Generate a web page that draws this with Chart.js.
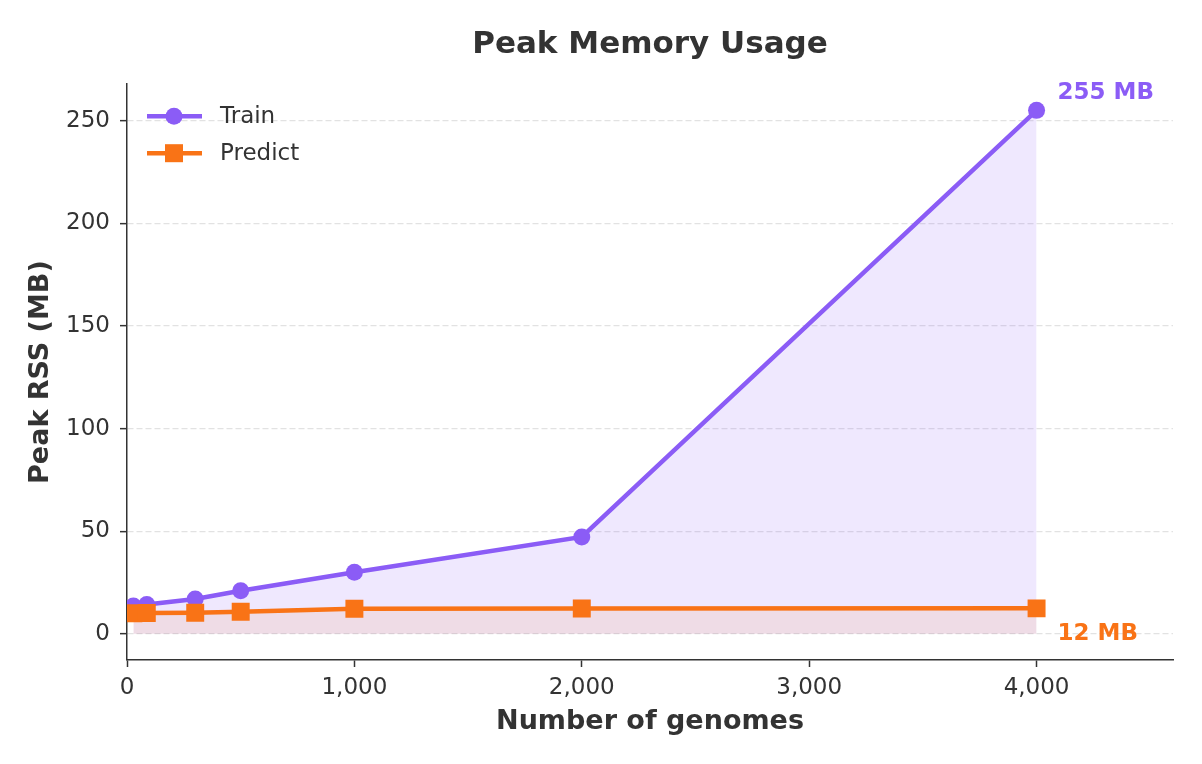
<!DOCTYPE html>
<html>
<head>
<meta charset="utf-8">
<title>Peak Memory Usage</title>
<script src="https://cdn.jsdelivr.net/npm/chart.js@4/dist/chart.umd.min.js"></script>
<style>
  html, body { margin: 0; padding: 0; background: #fff; }
  #wrap { width: 1202px; height: 764px; }
</style>
</head>
<body>
<div id="wrap"><canvas id="memChart" width="1202" height="764"></canvas></div>
<script>
// --- Data ---
const genomes = [28, 87, 300, 500, 1000, 2000, 4000];
const trainMB = [13.5, 14.3, 17.0, 21.0, 30.0, 47.2, 255];
const predictMB = [10.0, 10.1, 10.3, 10.8, 12.2, 12.3, 12.4];
const xTicks = [0, 1000, 2000, 3000, 4000];
const yTicks = [0, 50, 100, 150, 200, 250];
const seriesNames = ['Train', 'Predict'];
const endLabels = ['255 MB', '12 MB'];

// --- Style ---
const PURPLE = '#8b5cf6';
const ORANGE = '#f97316';
const INK = '#333333';
const FONT = "'DejaVu Sans', sans-serif";

const toPoints = (vals) => genomes.map((g, i) => ({ x: g, y: vals[i] }));

// legend (line + marker) and end-of-line labels drawn on top
const overlay = {
    id: 'overlay',
    afterDraw(chart) {
        const ctx = chart.ctx;
        const area = chart.chartArea;
        const xs = chart.scales.x;
        const ys = chart.scales.y;

        // legend
        const rows = [
            { name: seriesNames[0], color: PURPLE, marker: 'circle', y: area.top + 32 },
            { name: seriesNames[1], color: ORANGE, marker: 'rect', y: area.top + 69 }
        ];
        ctx.save();
        rows.forEach(r => {
            const x0 = area.left + 20, x1 = area.left + 75, mx = area.left + 47;
            ctx.strokeStyle = r.color;
            ctx.lineWidth = 4.5;
            ctx.beginPath();
            ctx.moveTo(x0, r.y);
            ctx.lineTo(x1, r.y);
            ctx.stroke();
            ctx.fillStyle = r.color;
            if (r.marker === 'circle') {
                ctx.beginPath();
                ctx.arc(mx, r.y, 8.5, 0, Math.PI * 2);
                ctx.fill();
            } else {
                ctx.fillRect(mx - 9, r.y - 9, 18, 18);
            }
            ctx.fillStyle = INK;
            ctx.font = `23px ${FONT}`;
            ctx.textAlign = 'left';
            ctx.textBaseline = 'middle';
            ctx.fillText(r.name, area.left + 93, r.y + 1);
        });

        // end labels
        const last = genomes.length - 1;
        const px = xs.getPixelForValue(genomes[last]);
        ctx.font = `bold 23px ${FONT}`;
        ctx.textAlign = 'left';
        ctx.textBaseline = 'alphabetic';
        ctx.fillStyle = PURPLE;
        ctx.fillText(endLabels[0], px + 21, ys.getPixelForValue(trainMB[last]) - 11);
        ctx.fillStyle = ORANGE;
        ctx.fillText(endLabels[1], px + 21, ys.getPixelForValue(predictMB[last]) + 32);
        ctx.restore();
    }
};

const ctx = document.getElementById('memChart').getContext('2d');
new Chart(ctx, {
    type: 'line',
    data: {
        datasets: [
            {
                label: seriesNames[0],
                data: toPoints(trainMB),
                borderColor: PURPLE,
                backgroundColor: 'rgba(139, 92, 246, 0.14)',
                fill: 'origin',
                borderWidth: 4.5,
                tension: 0,
                pointStyle: 'circle',
                pointRadius: 8.5,
                pointBackgroundColor: PURPLE,
                pointBorderColor: PURPLE,
                pointBorderWidth: 0,
                order: 1
            },
            {
                label: seriesNames[1],
                data: toPoints(predictMB),
                borderColor: ORANGE,
                backgroundColor: 'rgba(249, 115, 22, 0.10)',
                fill: 'origin',
                borderWidth: 4.5,
                tension: 0,
                pointStyle: 'rect',
                pointRadius: 12.7,
                pointBackgroundColor: ORANGE,
                pointBorderColor: ORANGE,
                pointBorderWidth: 0,
                order: 0
            }
        ]
    },
    options: {
        responsive: false,
        animation: false,
        devicePixelRatio: 1,
        layout: { padding: { left: 0, right: 29, top: 0, bottom: 0 } },
        plugins: {
            legend: { display: false },
            tooltip: { enabled: false },
            title: {
                display: true,
                text: 'Peak Memory Usage',
                color: INK,
                fullSize: false,
                font: { family: FONT, size: 31, weight: 'bold' },
                padding: { top: 26, bottom: 21 }
            }
        },
        scales: {
            x: {
                type: 'linear',
                min: 0,
                max: 4600,
                afterFit: (s) => { s.height = 104; },
                afterBuildTicks: (s) => { s.ticks = xTicks.map(v => ({ value: v })); },
                ticks: {
                    color: INK,
                    padding: 7,
                    font: { family: FONT, size: 23 },
                    callback: (v) => v.toLocaleString('en-US')
                },
                grid: {
                    display: true,
                    drawOnChartArea: false,
                    drawTicks: true,
                    tickLength: 7,
                    tickColor: INK,
                    tickWidth: 1.5
                },
                border: { display: true, color: INK, width: 1.5 },
                title: {
                    display: true,
                    text: 'Number of genomes',
                    color: INK,
                    font: { family: FONT, size: 27, weight: 'bold' },
                    padding: { top: 0, bottom: 26 }
                }
            },
            y: {
                type: 'linear',
                min: -12.75,
                max: 267.75,
                afterFit: (s) => { s.width = 127; },
                afterBuildTicks: (s) => { s.ticks = yTicks.map(v => ({ value: v })); },
                ticks: {
                    color: INK,
                    padding: 10,
                    font: { family: FONT, size: 23 }
                },
                grid: {
                    display: true,
                    drawOnChartArea: true,
                    drawTicks: true,
                    color: '#e2e2e2',
                    lineWidth: 1.3,
                    tickLength: 7,
                    tickColor: INK,
                    tickWidth: 1.5
                },
                border: { display: true, color: INK, width: 1.5, dash: [6, 3] },
                title: {
                    display: true,
                    text: 'Peak RSS (MB)',
                    color: INK,
                    font: { family: FONT, size: 27, weight: 'bold' },
                    padding: { top: 25, bottom: 0 }
                }
            }
        }
    },
    plugins: [overlay]
});
</script>
</body>
</html>
